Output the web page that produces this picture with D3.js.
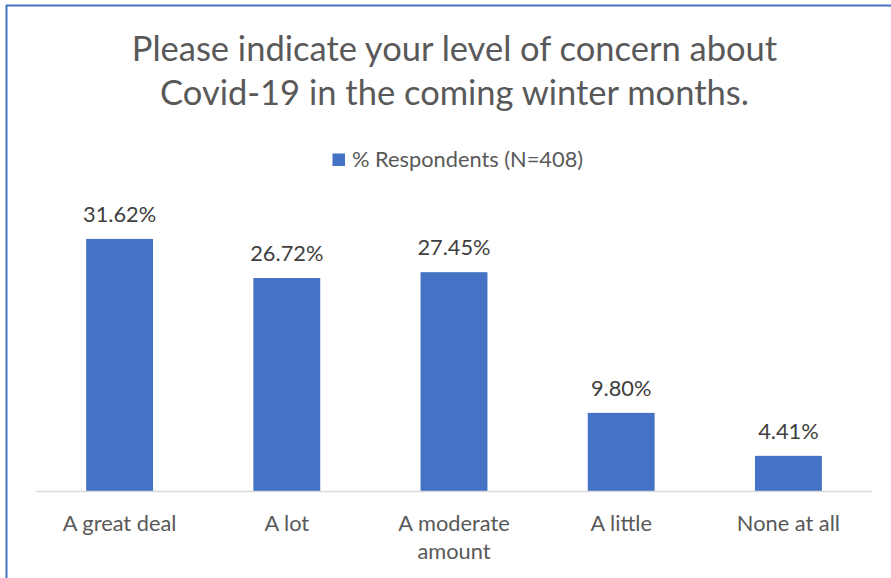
<!DOCTYPE html>
<html>
<head>
<meta charset="utf-8">
<script src="https://cdn.jsdelivr.net/npm/d3@7"></script>
<style>
  html, body { margin: 0; padding: 0; background: #fff; }
  svg { display: block; }
  text { font-family: Lato, "Open Sans", sans-serif; }
</style>
</head>
<body>
<script>
// Survey results
const categories = ["A great deal", "A lot", "A moderate amount", "A little", "None at all"];
const categoryLines = [["A great deal"], ["A lot"], ["A moderate", "amount"], ["A little"], ["None at all"]];
const values = [31.62, 26.72, 27.45, 9.80, 4.41];
const seriesName = "% Respondents (N=408)";
const titleLines = ["Please indicate your level of concern about", "Covid-19 in the coming winter months."];

const W = 891, H = 578;
const barColor = "#4472C4";
const labelSize = 21.8;

const svg = d3.select("body").append("svg")
  .attr("width", W).attr("height", H);

// Chart frame (top and left edges visible)
svg.append("line").attr("x1", 6).attr("x2", W).attr("y1", 5.5).attr("y2", 5.5)
  .attr("stroke", barColor).attr("stroke-width", 2);
svg.append("line").attr("x1", 6.5).attr("x2", 6.5).attr("y1", 5).attr("y2", H)
  .attr("stroke", barColor).attr("stroke-width", 2);

// Title
svg.append("text")
  .attr("x", 454.5).attr("y", 60.5)
  .attr("text-anchor", "middle")
  .attr("fill", "#595959")
  .attr("font-size", 34.5)
  .selectAll("tspan").data(titleLines).join("tspan")
  .attr("x", 454.5).attr("dy", (d, i) => i === 0 ? 0 : 44.5)
  .text(d => d);

// Legend
const legend = svg.append("g");
legend.append("rect").attr("x", 332.5).attr("y", 153.5).attr("width", 12.5).attr("height", 12.5).attr("fill", barColor);
legend.append("text").attr("x", 352).attr("y", 167)
  .attr("fill", "#595959").attr("font-size", labelSize).text(seriesName);

// Scales
const x = d3.scaleBand().domain(categories).range([36, 872]).paddingInner(0.6).paddingOuter(0.3);
const y = d3.scaleLinear().domain([0, 35]).range([491, 212]);

// Bars
svg.append("g").selectAll("rect").data(values).join("rect")
  .attr("x", (d, i) => x(categories[i]))
  .attr("width", x.bandwidth())
  .attr("y", d => y(d))
  .attr("height", d => y(0) - y(d))
  .attr("fill", barColor);

// Baseline axis
const axis = svg.append("g").attr("transform", `translate(0,${y(0)})`)
  .call(d3.axisBottom(x).tickSize(0).tickFormat(""));
axis.select(".domain").attr("stroke", "#D9D9D9").attr("stroke-width", 1.5);

// Category labels
svg.append("g").selectAll("text").data(categoryLines).join("text")
  .attr("text-anchor", "middle")
  .attr("fill", "#595959")
  .attr("font-size", labelSize)
  .attr("transform", (d, i) => `translate(${x(categories[i]) + x.bandwidth() / 2},530.5)`)
  .selectAll("tspan").data(d => d).join("tspan")
  .attr("x", 0).attr("dy", (d, i) => i === 0 ? 0 : 28)
  .text(d => d);

// Value labels
svg.append("g").selectAll("text").data(values).join("text")
  .attr("x", (d, i) => x(categories[i]) + x.bandwidth() / 2)
  .attr("y", d => y(d) - 17)
  .attr("text-anchor", "middle")
  .attr("fill", "#404040")
  .attr("font-size", labelSize)
  .text(d => d.toFixed(2) + "%");
</script>
</body>
</html>
